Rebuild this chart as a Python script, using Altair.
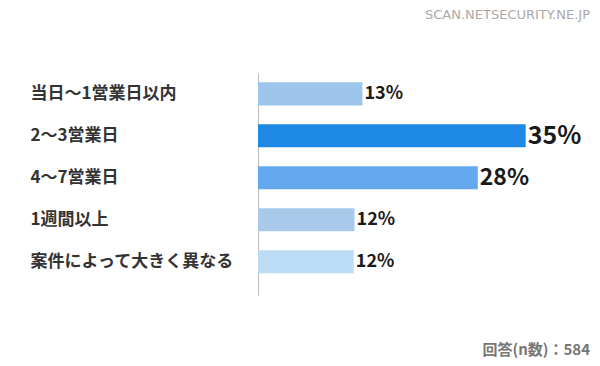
import altair as alt
import pandas as pd

categories = ["当日～1営業日以内", "2～3営業日", "4～7営業日", "1週間以上", "案件によって大きく異なる"]
values = [13.3, 34.1, 28.0, 12.3, 12.2]
labels = ["13%", "35%", "28%", "12%", "12%"]
colors = ["#9EC5EC", "#1E88E5", "#64A9EF", "#A9C9EA", "#BCDBF5"]
label_sizes = [18, 25, 23, 18, 18]
watermark = "SCAN.NETSECURITY.NE.JP"
footer = "回答(n数)：584"

df = pd.DataFrame({
    "cat": categories,
    "val": values,
    "lab": labels,
    "col": colors,
    "fs": label_sizes,
})

FONT = "Noto Sans CJK JP"
W, H = 314, 222

yenc = alt.Y("cat:N", sort=categories,
             scale=alt.Scale(paddingInner=0.45, paddingOuter=0.37, align=0.3),
             axis=alt.Axis(title=None, ticks=False, domain=True, domainColor="#BBBBBB",
                           domainWidth=1, labelAlign="left", labelPadding=228,
                           labelLimit=300, labelFont=FONT, labelFontSize=17,
                           labelFontWeight="bold", labelColor="#333333", grid=False))
xenc = alt.X("val:Q", scale=alt.Scale(domain=[0, 40]), axis=None)

base = alt.Chart(df)
bars = base.mark_bar().encode(x=xenc, y=yenc, color=alt.Color("col:N", scale=None))
text = base.mark_text(align="left", baseline="middle", dx=2, font=FONT,
                      fontWeight="bold", color="#1A1A1A").encode(
    x=xenc, y=alt.Y("cat:N", sort=categories), text="lab:N",
    size=alt.Size("fs:Q", scale=None))

wm = alt.Chart(pd.DataFrame({"t": [watermark]})).mark_text(
    align="right", baseline="middle", font="DejaVu Sans", fontSize=13,
    color="#AAAAAA").encode(text="t:N", x=alt.value(332), y=alt.value(-58))
ft = alt.Chart(pd.DataFrame({"t": [footer]})).mark_text(
    align="right", baseline="middle", font=FONT, fontSize=15, fontWeight="bold",
    color="#777777").encode(text="t:N", x=alt.value(332), y=alt.value(277))

chart = alt.layer(bars, text, wm, ft).properties(
    width=W, height=H,
    autosize=alt.AutoSizeParams(type="none"),
    padding={"left": 250, "top": 65, "right": 20, "bottom": 71},
    background="white",
).configure_view(stroke=None)

chart.save("out.html", embed_options={"renderer": "svg", "actions": False})
